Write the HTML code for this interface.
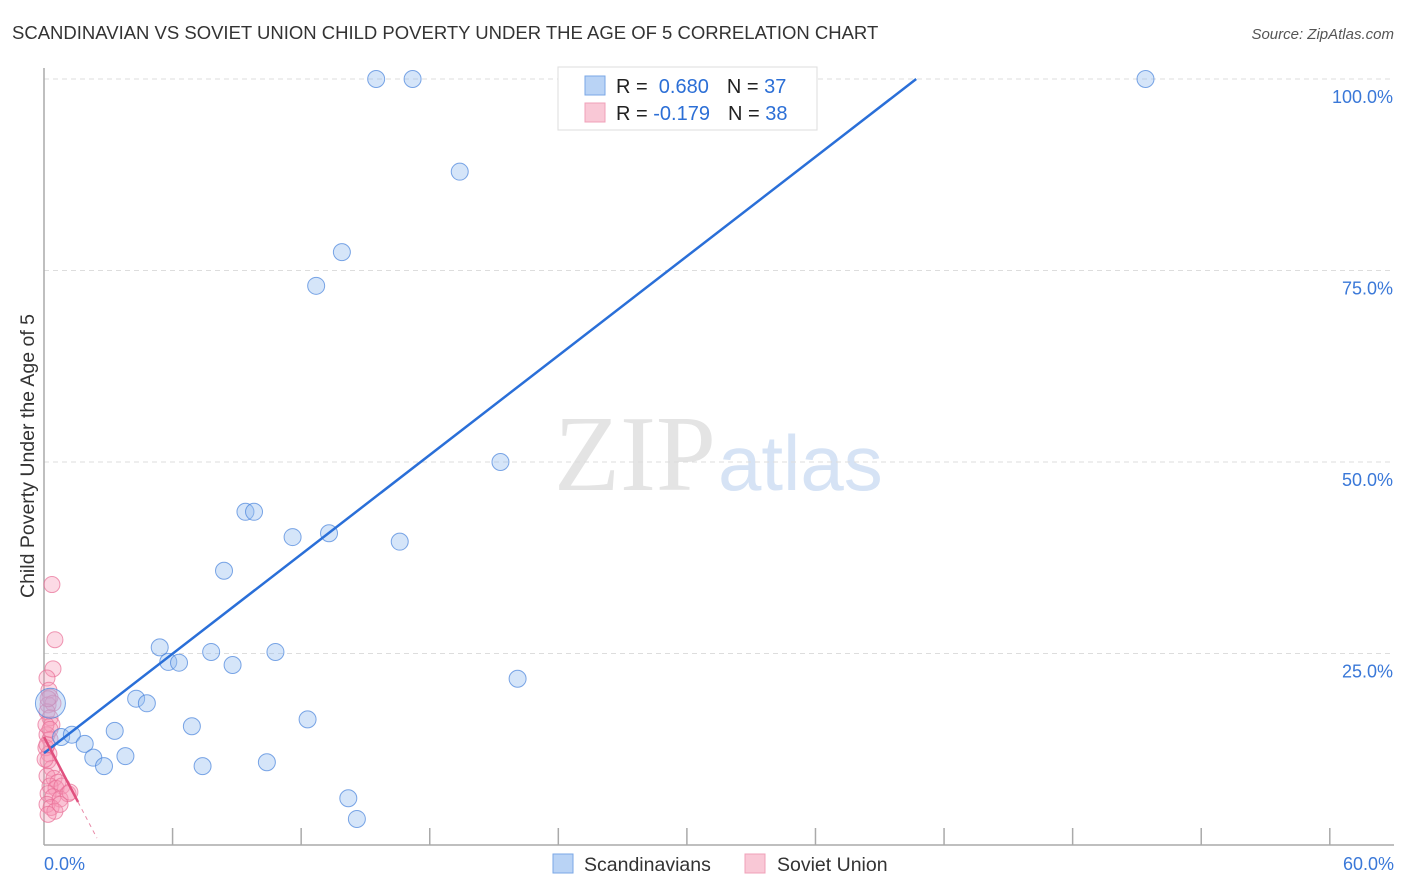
<!DOCTYPE html>
<html><head><meta charset="utf-8"><style>
body{margin:0;background:#fff;font-family:"Liberation Sans",sans-serif}
svg{display:block}
</style></head><body>
<svg id="chart" width="1406" height="892">
<text x="12" y="39" font-size="18.5" fill="#333">SCANDINAVIAN VS SOVIET UNION CHILD POVERTY UNDER THE AGE OF 5 CORRELATION CHART</text>
<text x="1394" y="39" font-size="15" fill="#555" font-style="italic" text-anchor="end">Source: ZipAtlas.com</text>
<text x="716" y="490" font-size="108" fill="#e4e4e4" text-anchor="end" font-family="Liberation Serif,serif">ZIP</text>
<text x="718" y="490" font-size="78" fill="#d6e3f5">atlas</text>
<text transform="translate(34,456) rotate(-90)" font-size="19.5" fill="#333" text-anchor="middle">Child Poverty Under the Age of 5</text>
<g id="grid"></g><g id="axes"></g><g id="pink"></g><g id="blue"></g><g id="lines"></g>
<g>
<rect x="558" y="67" width="259" height="63" fill="#fff" stroke="#ddd"/>
<rect x="585" y="76" width="20" height="19" fill="#b9d3f5" stroke="#7aa7e6"/>
<rect x="585" y="103" width="20" height="19" fill="#f9c8d6" stroke="#f0a0b8"/>
<text x="616" y="93" font-size="20" fill="#222">R = <tspan fill="#2c6fd6">&#160;0.680</tspan><tspan dx="18">N = </tspan><tspan fill="#2c6fd6">37</tspan></text>
<text x="616" y="120" font-size="20" fill="#222">R = <tspan fill="#2c6fd6">-0.179</tspan><tspan dx="18">N = </tspan><tspan fill="#2c6fd6">38</tspan></text>
</g>
<g>
<rect x="553" y="854" width="20" height="19" fill="#b9d3f5" stroke="#7aa7e6"/>
<text x="584" y="871" font-size="19.5" fill="#333">Scandinavians</text>
<rect x="745" y="854" width="20" height="19" fill="#f9c8d6" stroke="#f0a0b8"/>
<text x="777" y="871" font-size="19.5" fill="#333">Soviet Union</text>
</g>
</svg>
<script>
const yTicks=[25,50,75,100];
const xTickLabels=["0.0%","60.0%"];
const blueX=[15.5,17.2,26.2,51.4,19.4,13.9,12.7,21.3,9.4,9.8,11.6,13.3,16.6,8.4,5.4,5.8,6.3,7.8,8.8,10.8,22.1,4.3,4.8,6.9,12.3,3.3,0.8,1.3,1.9,2.3,3.8,2.8,7.4,10.4,14.2,14.6,0.3];
const blueY=[100,100,100,100,87.9,77.4,73.0,50.0,43.5,43.5,40.2,40.7,39.6,35.8,25.8,23.9,23.8,25.2,23.5,25.2,21.7,19.1,18.5,15.5,16.4,14.9,14.1,14.4,13.2,11.4,11.6,10.3,10.3,10.8,6.1,3.4,18.5];
const pinkX=[0.37,0.51,0.42,0.14,0.23,0.28,0.19,0.42,0.14,0.28,0.37,0.14,0.28,0.09,0.23,0.19,0.37,0.14,0.47,0.65,0.28,0.56,0.84,0.19,0.42,0.75,1.12,0.14,0.33,0.51,0.19,0.75,1.21,0.05,0.14,0.09,0.28,0.19];
const pinkY=[34,26.8,23,21.8,20.2,19.3,18.3,18.5,17.4,16.6,15.7,14.4,13.8,12.7,11.9,11.0,10.0,9.0,8.7,8.2,7.7,7.4,7.7,6.7,6.3,6.0,6.7,5.3,4.9,4.4,4.0,5.3,6.9,11.2,13.1,15.7,15.1,19.1];
const blueLine=[[0,12.0],[40.7,100]];
const pinkLine=[[0,14.1],[1.59,5.6]];
const pinkDash=[[1.59,5.6],[2.47,0.9]];
const X=v=>44+v*21.43, Y=v=>845-v*7.66;
const NS="http://www.w3.org/2000/svg";
function mk(tag,attrs,parent){const e=document.createElementNS(NS,tag);for(const k in attrs)e.setAttribute(k,attrs[k]);document.getElementById(parent).appendChild(e);return e;}
yTicks.forEach(t=>{
 const l=mk('line',{x1:44,x2:1394,y1:Y(t),y2:Y(t),stroke:'#ddd','stroke-dasharray':'5,4'},'grid');
 
 
 const tx=mk('text',{x:1393,y:Y(t)+24,'font-size':18,fill:'#3a78d8','text-anchor':'end'},'grid');
 tx.textContent=t.toFixed(1)+'%';
 
 
});
const ax=mk('line',{x1:44,x2:44,y1:68,y2:845,stroke:'#aaa','stroke-width':1.5},'axes');


const bx=mk('line',{x1:44,x2:1394,y1:845,y2:845,stroke:'#aaa','stroke-width':1.5},'axes');


for(let i=1;i<=10;i++){const t=mk('line',{x1:X(i*6),x2:X(i*6),y1:828,y2:845,stroke:'#aaa','stroke-width':1.5},'axes');
 
 }
[[0,'start',44],[60,'end',1394]].forEach((d,i)=>{const t=mk('text',{x:d[2],y:870,'font-size':18,fill:'#3a78d8','text-anchor':d[1]},'axes');t.textContent=xTickLabels[i];
 
 });
pinkX.forEach((x,i)=>{const c=mk('circle',{cx:X(x),cy:Y(pinkY[i]),r:8,fill:'rgba(245,150,180,0.35)',stroke:'rgba(232,110,150,0.7)'},'pink');
 
 });
blueX.forEach((x,i)=>{const c=mk('circle',{cx:X(x),cy:Y(blueY[i]),r:i==36?15:8.5,fill:'rgba(150,190,240,0.4)',stroke:'rgba(70,130,220,0.7)'},'blue');
 
 });
const bl=mk('line',{x1:X(blueLine[0][0]),y1:Y(blueLine[0][1]),x2:X(blueLine[1][0]),y2:Y(blueLine[1][1]),stroke:'#2a6fd8','stroke-width':2.5},'lines');


const pl=mk('line',{x1:X(pinkLine[0][0]),y1:Y(pinkLine[0][1]),x2:X(pinkLine[1][0]),y2:Y(pinkLine[1][1]),stroke:'#e0507e','stroke-width':2.5},'lines');


const pd=mk('line',{x1:X(pinkDash[0][0]),y1:Y(pinkDash[0][1]),x2:X(pinkDash[1][0]),y2:Y(pinkDash[1][1]),stroke:'#e88aa8','stroke-width':1,'stroke-dasharray':'4,4'},'lines');


</script>
</body></html>
